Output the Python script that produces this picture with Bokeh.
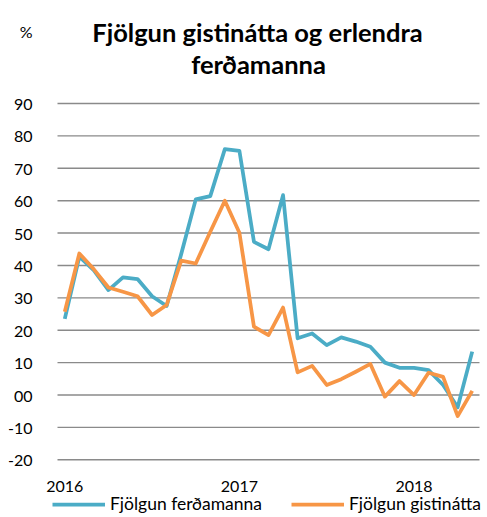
from bokeh.plotting import figure
from bokeh.models import Range1d, FixedTicker, Label, Legend, LegendItem, ColumnDataSource
from bokeh.embed import file_html
from bokeh.resources import INLINE

# Monthly data, Jan 2016 - May 2018 (% change year on year)
months = ["2016-01", "2016-02", "2016-03", "2016-04", "2016-05", "2016-06", "2016-07", "2016-08",
          "2016-09", "2016-10", "2016-11", "2016-12", "2017-01", "2017-02", "2017-03", "2017-04",
          "2017-05", "2017-06", "2017-07", "2017-08", "2017-09", "2017-10", "2017-11", "2017-12",
          "2018-01", "2018-02", "2018-03", "2018-04", "2018-05"]
ferdamanna = [23.5, 42.7, 38.5, 32.4, 36.3, 35.8, 30.5, 27.5, 43.5, 60.4, 61.4, 75.9, 75.4, 47.3,
              45.0, 61.7, 17.5, 19.0, 15.4, 17.8, 16.5, 14.9, 10.0, 8.4, 8.4, 7.7, 3.1, -3.8, 13.4]
gistinatta = [25.7, 43.7, 38.8, 33.2, 31.9, 30.5, 24.7, 27.8, 41.5, 40.6, 50.4, 60.0, 50.1, 21.1,
              18.5, 27.0, 7.0, 9.0, 3.1, 4.9, 7.2, 9.6, -0.5, 4.3, 0.0, 6.9, 5.6, -6.5, 1.3]
year_ticks = {0: "2016", 12: "2017", 24: "2018"}
y_ticks = [-20, -10, 0, 10, 20, 30, 40, 50, 60, 70, 80, 90]
y_labels = {-20: "-20", -10: "-10", 0: "00", 10: "10", 20: "20", 30: "30", 40: "40",
            50: "50", 60: "60", 70: "70", 80: "80", 90: "90"}
unit_label = "%"
title_lines = ["Fjölgun gistinátta og erlendra", "ferðamanna"]
series_names = ["Fjölgun ferðamanna", "Fjölgun gistinátta"]

# The plot area spans the whole canvas: room above the 90 line (title),
# left of the first month (value labels) and below -20 (year labels, legend).
X_LEFT, X_RIGHT = -4.417, 29.05
Y_BOT, Y_TOP = -37.81, 121.80
X_AXIS_AT, Y_AXIS_AT = -20, -0.5
UNIT_TICK = 112.08

FONT = "Lato"
BLUE = "#4BACC6"
ORANGE = "#F79646"
GRID = "#8a8a8a"

idx = list(range(len(months)))
src = ColumnDataSource(dict(x=idx, m=months, a=ferdamanna, b=gistinatta))

p = figure(width=487, height=517, output_backend="svg", toolbar_location=None,
           x_range=Range1d(X_LEFT, X_RIGHT), y_range=Range1d(Y_BOT, Y_TOP),
           min_border_left=0, min_border_right=0, min_border_top=0, min_border_bottom=0)
p.outline_line_color = None
p.background_fill_color = "white"
p.border_fill_color = "white"

# horizontal gridlines over the months span
p.segment(x0=[Y_AXIS_AT] * len(y_ticks), x1=[len(months) - 0.5] * len(y_ticks),
          y0=y_ticks, y1=y_ticks, line_color=GRID, line_width=1.4)

r1 = p.line("x", "a", source=src, line_color=BLUE, line_width=3.75, line_join="round")
r2 = p.line("x", "b", source=src, line_color=ORANGE, line_width=3.75, line_join="round")

# axes
p.xaxis.ticker = FixedTicker(ticks=list(year_ticks.keys()))
p.xaxis.major_label_overrides = year_ticks
p.xaxis.fixed_location = X_AXIS_AT
p.yaxis.ticker = FixedTicker(ticks=y_ticks + [UNIT_TICK])
p.yaxis.major_label_overrides = {**y_labels, UNIT_TICK: unit_label}
p.yaxis.fixed_location = Y_AXIS_AT
for ax in (p.xaxis[0], p.yaxis[0]):
    ax.axis_line_color = None
    ax.major_tick_line_color = None
    ax.minor_tick_line_color = None
    ax.major_label_text_font = FONT
    ax.major_label_text_font_size = "16px"
    ax.major_label_text_color = "#000000"
p.yaxis.major_label_standoff = 19
p.xaxis.major_label_standoff = 15
p.xgrid.grid_line_color = None
p.ygrid.grid_line_color = None

# title
p.add_layout(Label(x=257, y=485.3, x_units="screen", y_units="screen", text=title_lines[0],
                   text_align="center", text_baseline="alphabetic", text_font=FONT,
                   text_font_style="bold", text_font_size="25.5px", text_color="#000000"))
p.add_layout(Label(x=258, y=453.7, x_units="screen", y_units="screen", text=title_lines[1],
                   text_align="center", text_baseline="alphabetic", text_font=FONT,
                   text_font_style="bold", text_font_size="25.5px", text_color="#000000"))

# legend
lg = Legend(items=[LegendItem(label=series_names[0], renderers=[r1]),
                   LegendItem(label=series_names[1], renderers=[r2])],
            location=(52, 3), orientation="horizontal", padding=0, margin=0, spacing=29,
            glyph_width=53, glyph_height=18, label_height=18, label_standoff=5,
            label_text_font=FONT, label_text_font_size="17.5px", label_text_color="#000000",
            border_line_color=None, background_fill_alpha=0)
p.add_layout(lg, "center")

open("out.html", "w").write(file_html(p, INLINE))
